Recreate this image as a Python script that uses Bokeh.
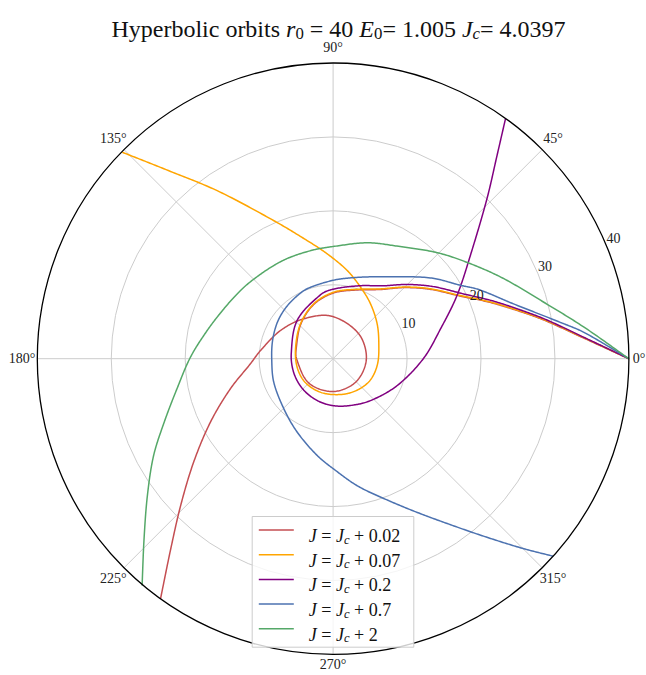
import numpy as np
from bokeh.plotting import figure
from bokeh.models import Range1d
from bokeh.core.properties import value
from bokeh.embed import file_html
from bokeh.resources import INLINE

# ---------------- data (theta in degrees, unwrapped; r) ----------------
red_theta = [0, 5, 10.5, 15, 20, 26.4, 35.7, 45, 55.9, 70, 89.4, 109.4, 133, 163, 180, 225, 270, 315,
             360, 405, 452, 486.3, 511.8, 533.6, 543.5, 556.4, 567.4, 576.6, 583.9, 589.5, 594.3]
red_r = [40, 33.7, 28.9, 25.5, 22.4, 19.1, 16.1, 13.6, 11.3, 9.9, 8.9, 7.8, 6.4, 5.2, 4.95, 4.65, 4.44, 4.4,
         4.5, 4.84, 5.75, 6.7, 8.07, 9.88, 11.2, 14.5, 18.7, 23.5, 28.6, 33.8, 40.0]

orange_theta = [0, 5, 10.5, 15, 20, 26.4, 35.7, 45, 55.9, 70, 89.4, 109.4, 133, 163, 193, 220, 250, 282,
                307, 330, 353, 378, 398.4, 415.7, 429, 440.9, 453.2, 462.4, 473.2, 484.6, 491.7, 495.6]
orange_r = [40, 33.8, 29.0, 25.6, 22.5, 19.2, 16.2, 13.7, 11.4, 10.0, 9.0, 7.87, 6.46, 5.3, 5.0, 4.95, 4.85, 4.95,
            5.35, 5.8, 6.05, 6.5, 7.6, 8.98, 10.36, 12.08, 14.2, 16.36, 20.3, 27.6, 34.4, 39.9]

purple_theta = [0, 5, 10.5, 15, 20, 26.4, 35.7, 45, 55.9, 70, 90, 101.3, 133.2, 173, 200, 225, 249, 270,
                290.4, 311.8, 337.3, 360, 375.6, 387, 396.9, 406.1, 411.1, 414.3]
purple_r = [40, 33.9, 29.2, 25.9, 22.9, 19.7, 16.7, 14.2, 11.9, 10.5, 9.4, 8.8, 7.1, 5.7, 5.65, 5.8, 6.05, 6.35,
            6.75, 7.6, 9.4, 12.2, 15.1, 18.8, 23.2, 30.0, 35.3, 39.95]

blue_theta = [0, 6, 9.1, 16.9, 25.4, 29.9, 39.7, 60, 75.9, 90, 109.5, 119.6, 133, 146.9, 163, 180, 201.6,
              225.5, 244, 260.7, 271.2, 280.8, 289.9, 298.7, 306.4, 311.2, 315.1, 318.1]
blue_r = [40, 34.1, 31.1, 25.5, 21.8, 19.9, 17.1, 12.8, 11.3, 10.6, 10.1, 9.8, 9.4, 9.0, 8.55, 8.3, 8.63,
          9.5, 11.06, 13.27, 15.1, 17.5, 20.1, 23.7, 28.3, 32.3, 36.4, 40.0]

green_theta = [0, 7.16, 15, 25.1, 34.6, 45.5, 60.5, 73.6, 90, 100, 112.8, 122.5, 134.9, 143.6, 155.5,
               167.4, 179.4, 190.9, 200.6, 208.4, 216.4, 223.6, 229.9]
green_r = [40, 34.2, 29.5, 25.5, 22.6, 20.1, 17.5, 16.34, 15.17, 14.95, 14.89, 14.94, 15.19, 15.55, 16.24,
           17.45, 19.29, 21.5, 24.4, 27.6, 31.2, 35.3, 40.1]

series_labels = ["0.02", "0.07", "0.2", "0.7", "2"]
series_colors = ["#c44e52", "#ffa500", "#800080", "#4c72b0", "#55a868"]
series_data = [(red_theta, red_r), (orange_theta, orange_r), (purple_theta, purple_r),
               (blue_theta, blue_r), (green_theta, green_r)]

r_ticks = [10, 20, 30, 40]
r_max = 40
theta_ticks = [0, 45, 90, 135, 180, 225, 270, 315]

# ---------------- layout ----------------
W, H = 646, 675
CX, CY = 332.6, 358.2          # pole position in page pixels
S = 295.8 / r_max              # pixels per radial unit
FONT = "Liberation Serif"

def px(xi, yi):
    return (xi - CX) / S, (CY - yi) / S

x_lo, y_top = px(0, 0)
x_hi, y_bot = px(W, H)

p = figure(width=W, height=H, x_range=Range1d(x_lo, x_hi), y_range=Range1d(y_bot, y_top),
           output_backend="svg", toolbar_location=None, x_axis_type=None, y_axis_type=None,
           min_border=0, outline_line_color=None, background_fill_color="white",
           border_fill_color="white")
p.grid.visible = False

def smooth_path(theta, r, k=24):
    """Smooth cubic path through the polar data points, for drawing only."""
    a = np.radians(np.asarray(theta, float))
    rr = np.asarray(r, float)
    P = np.column_stack([rr * np.cos(a), rr * np.sin(a)])
    n = len(P)
    d = np.linalg.norm(np.diff(P, axis=0), axis=1)
    T = np.zeros_like(P)
    for i in range(n):
        if i == 0:
            T[i] = (P[1] - P[0]) / d[0]
        elif i == n - 1:
            T[i] = (P[-1] - P[-2]) / d[-1]
        else:
            T[i] = (P[i + 1] - P[i - 1]) / (d[i - 1] + d[i])
    c0 = P[:-1] + T[:-1] * d[:, None] / 3
    c1 = P[1:] - T[1:] * d[:, None] / 3
    u = np.linspace(0, 1, k, endpoint=False)[:, None, None]
    B = ((1 - u) ** 3 * P[:-1] + 3 * (1 - u) ** 2 * u * c0 + 3 * (1 - u) * u ** 2 * c1 + u ** 3 * P[1:])
    B = B.transpose(1, 0, 2).reshape(-1, 2)
    B = np.vstack([B, P[-1]])
    return B[:, 0], B[:, 1]

GRID = "#cccccc"
ang = np.radians(theta_ticks)
p.segment(x0=np.zeros(len(ang)), y0=np.zeros(len(ang)), x1=r_max * np.cos(ang), y1=r_max * np.sin(ang),
          line_color=GRID, line_width=1)
p.circle(x=[0] * 3, y=[0] * 3, radius=r_ticks[:3], fill_color=None, line_color=GRID, line_width=1)

for (th, rr), col in zip(series_data, series_colors):
    xs, ys = smooth_path(th, rr)
    p.line(xs, ys, line_color=col, line_width=1.5, line_join="round")

p.circle(x=[0], y=[0], radius=[r_max], fill_color=None, line_color="black", line_width=1.3)

# theta labels
lab_r = np.array([306 if t in (0, 270) else 311 for t in theta_ticks]) / S
p.text(x=lab_r * np.cos(ang), y=lab_r * np.sin(ang), text=[f"{t}\u00b0" for t in theta_ticks],
       text_font=value(FONT), text_font_size="14px", text_color="#222222",
       text_align="center", text_baseline="middle")
ra = np.radians(22.5)
p.text(x=[r * np.cos(ra) for r in r_ticks], y=[r * np.sin(ra) for r in r_ticks],
       text=[str(r) for r in r_ticks], x_offset=7, y_offset=-7.5,
       text_font=value(FONT), text_font_size="14px", text_color="#222222",
       text_align="center", text_baseline="middle")

# ---------------- rich text helper (Times metrics) ----------------
REG = {' ': 250, 'H': 722, 'y': 500, 'p': 500, 'e': 444, 'r': 333, 'b': 500, 'o': 500, 'l': 278,
       'i': 278, 'c': 444, 't': 278, 's': 389, '=': 564, '+': 564, '.': 250}
ITA = {'r': 389, 'E': 611, 'J': 444, 'c': 444, ' ': 250}

def wid(txt, style, size):
    tab = ITA if style == "italic" else REG
    return sum(tab.get(ch, 500) for ch in txt) * size / 1000.0

def rich(pieces, x_img, y_base, size, align="left"):
    total = sum(wid(t, st, size * sc) for t, st, sc, sh in pieces)
    cur = x_img - (total / 2 if align == "center" else 0)
    for t, st, sc, sh in pieces:
        fs = size * sc
        lead = len(t) - len(t.lstrip(' '))
        xs = cur + wid(' ' * lead, st, fs)
        dx, dy = px(xs, y_base + sh * size)
        p.text(x=[dx], y=[dy], text=[t.strip(' ')], text_font=value(FONT),
               text_font_size=f"{fs:.1f}px", text_font_style=st, text_color="#111111",
               text_align="left", text_baseline="alphabetic")
        cur += wid(t, st, fs)

SUB = 0.2
title_pieces = [("Hyperbolic orbits ", "normal", 1, 0), ("r", "italic", 1, 0), ("0", "normal", 0.7, SUB),
                (" = 40 ", "normal", 1, 0), ("E", "italic", 1, 0), ("0", "normal", 0.7, SUB),
                ("= 1.005 ", "normal", 1, 0), ("J", "italic", 1, 0), ("c", "italic", 0.7, SUB),
                ("= 4.0397", "normal", 1, 0)]
rich(title_pieces, 338, 28, 24, align="center")

# ---------------- legend ----------------
lx0, ly0 = px(251.7, 516)
lx1, ly1 = px(413.3, 646.7)
p.quad(left=[lx0], right=[lx1], top=[ly0], bottom=[ly1], fill_color="white", fill_alpha=0.8,
       line_color="#cccccc", line_width=1)
for i, (lab, col) in enumerate(zip(series_labels, series_colors)):
    ry = 529.5 + i * 24.7
    a0, b0 = px(258.3, ry)
    a1, _ = px(293.3, ry)
    p.segment(x0=[a0], y0=[b0], x1=[a1], y1=[b0], line_color=col, line_width=1.5)
    rich([("J", "italic", 1, 0), (" = ", "normal", 1, 0), ("J", "italic", 1, 0),
          ("c", "italic", 0.7, SUB), (" + " + lab, "normal", 1, 0)], 308.3, ry + 6, 18)

open("out.html", "w").write(file_html(p, INLINE))
